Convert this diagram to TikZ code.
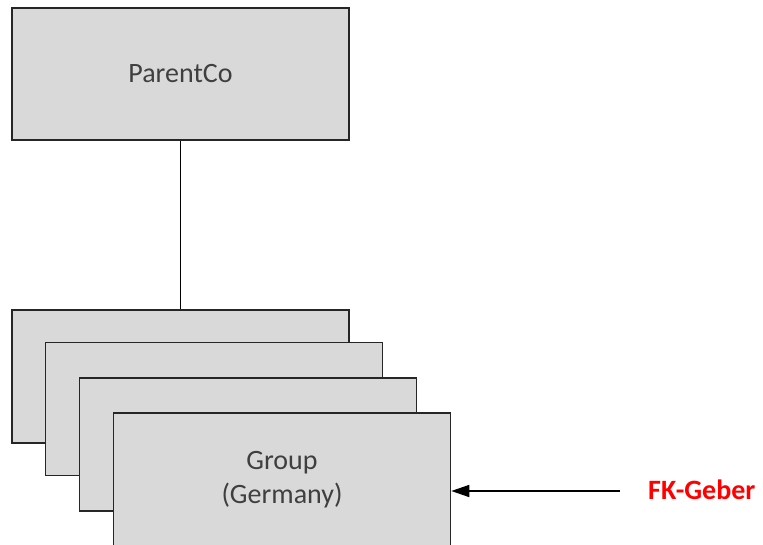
\documentclass[tikz,border=0pt]{standalone}
\usepackage{fontspec}
\setmainfont{Carlito}
\usetikzlibrary{arrows.meta}
\definecolor{boxfill}{HTML}{D9D9D9}
\definecolor{boxline}{HTML}{262626}
\definecolor{txt}{HTML}{3F3F3F}
\tikzset{
  entity/.style={draw=boxline, fill=boxfill, line width=1.6pt, rectangle,
    minimum width=337pt, minimum height=133pt, inner sep=0pt, text=txt,
    font=\fontsize{28}{34}\selectfont, align=center},
  link/.style={draw=black, line width=1.6pt},
  arr/.style={draw=black, line width=1.6pt, -{Triangle[length=18pt,width=12pt]}},
  redlabel/.style={text=red, font=\fontsize{28}{34}\selectfont\bfseries, inner sep=0pt}
}
\begin{document}
\begin{tikzpicture}[x=1pt,y=-1pt]
\useasboundingbox (0,0) rectangle (763,544);
\clip (0,0) rectangle (763,544);
\node[entity, minimum height=132pt] (parent) at (180.5,74) {ParentCo};
\node[entity] (g1) at (180.5,376.5) {};
\node[entity] (g2) at (214,409) {};
\node[entity] (g3) at (248,444.5) {};
\node[entity] (g4) at (282,479.5) {Group\\(Germany)};
\draw[link] (parent.south) -- (g1.north);
\coordinate (src) at (620,491);
\node[redlabel, anchor=west] (fk) at (648,490) {FK-Geber};
\draw[arr] (src) -- (src -| g4.east);
\end{tikzpicture}
\end{document}
